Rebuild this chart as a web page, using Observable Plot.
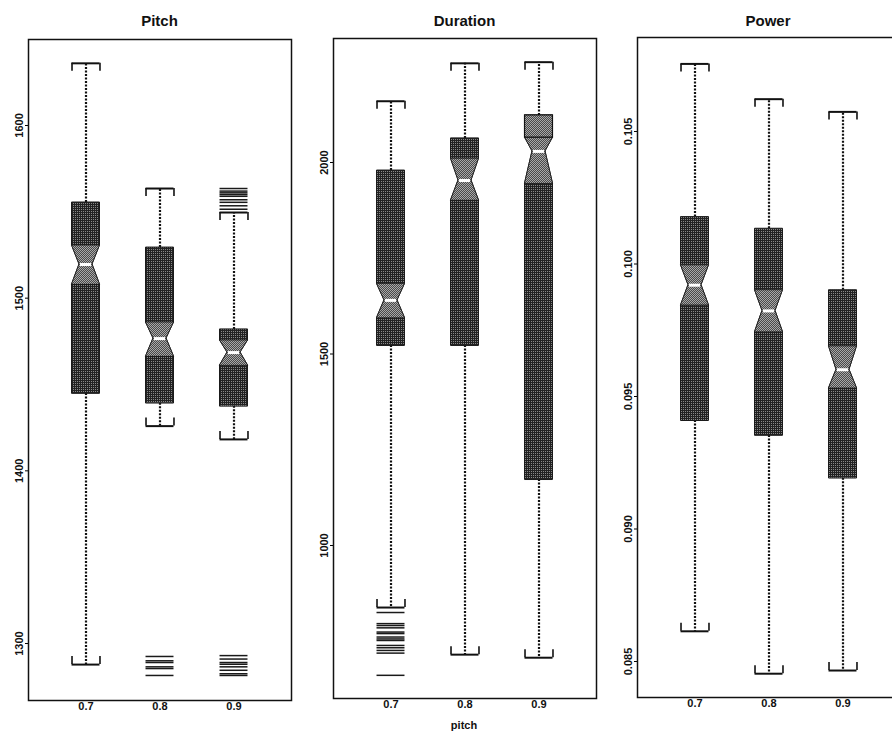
<!DOCTYPE html>
<html><head><meta charset="utf-8">
<script src="https://cdn.jsdelivr.net/npm/d3@7"></script>
<script src="https://cdn.jsdelivr.net/npm/@observablehq/plot@0.6"></script>
<style>
html,body{margin:0;padding:0;background:#fff;overflow:hidden;width:892px;height:736px;}
#root{position:relative;width:892px;height:736px;overflow:hidden;font-family:"Liberation Sans",Arial,Helvetica,sans-serif;}
.panel{position:absolute;top:30px;}
.title{position:absolute;top:12px;width:160px;text-align:center;font-size:15px;font-weight:bold;line-height:18px;color:#111;}
.xlab{position:absolute;top:719px;width:80px;text-align:center;font-size:11px;font-weight:bold;line-height:13px;color:#111;}
</style></head>
<body><div id="root">
<svg width="0" height="0" style="position:absolute;left:0;top:0"><defs>
<pattern id="dark" width="2" height="2" patternUnits="userSpaceOnUse"><rect width="2" height="2" fill="#222"/><rect x="1" y="1" width="1" height="1" fill="#888"/></pattern>
<pattern id="mid" width="2" height="2" patternUnits="userSpaceOnUse"><rect width="2" height="2" fill="#4a4a4a"/><rect x="0" y="0" width="1" height="1" fill="#a8a8a8"/><rect x="1" y="1" width="1" height="1" fill="#a8a8a8"/></pattern>
</defs></svg>
</div>
<script>
const cats = [0.7, 0.8, 0.9];
const catLabels = ["0.7", "0.8", "0.9"];

// Pitch
const pitchWhiskerHigh = [1636, 1563.5, 1549.6];
const pitchQ3 = [1555.4, 1529.3, 1481.9];
const pitchNotchHigh = [1530.5, 1485.9, 1475.5];
const pitchMedian = [1519.5, 1476.6, 1468.5];
const pitchNotchLow = [1507.9, 1466.2, 1461];
const pitchQ1 = [1444.8, 1439.2, 1437.4];
const pitchWhiskerLow = [1287.8, 1425.9, 1418.2];
const pitchOutliers = [[], [1292.5, 1290, 1289, 1286.5, 1285.5, 1281.5],
  [1563.5, 1562, 1561, 1560, 1559, 1557, 1555.5, 1553.5, 1551.5, 1293, 1291, 1289, 1288, 1286.5, 1284.5, 1282.5, 1281.5]];
const pitchTicks = [1300, 1400, 1500, 1600];

// Duration
const durWhiskerHigh = [2160, 2259, 2262];
const durQ3 = [1979, 2063, 2065];
const durNotchHigh = [1683, 2010, 2123];
const durMedian = [1640, 1953, 2029];
const durNotchLow = [1594, 1901, 1945];
const durQ1 = [1522, 1522, 1172];
const durWhiskerLow = [838, 715, 707];
const durOutliers = [[825, 796, 791, 785, 774, 770, 761, 756, 752, 739, 733, 726, 719, 661], [], []];
const durTicks = [1000, 1500, 2000];

// Power
const powWhiskerHigh = [0.10755, 0.10622, 0.10574];
const powQ3 = [0.10177, 0.10133, 0.09901];
const powNotchHigh = [0.09995, 0.09901, 0.09689];
const powMedian = [0.09920, 0.09823, 0.09601];
const powNotchLow = [0.09844, 0.09743, 0.09531];
const powQ1 = [0.09409, 0.09353, 0.09192];
const powWhiskerLow = [0.08614, 0.08454, 0.08466];
const powOutliers = [[], [], []];
const powTicks = [0.085, 0.090, 0.095, 0.100, 0.105];

const xDomain = [0.6223, 0.9777];
const HW = 0.0189, NW = 0.0088;

function panel(o) {
  const innerH = o.height - o.marginTop - o.marginBottom;
  const capLen = 8 * (o.domain[1] - o.domain[0]) / innerH;
  const n = cats.length;
  const body = [], notch = [], ext = [], outs = [], whisk = [], caps = [], capTicks = [];
  for (let i = 0; i < n; i++) {
    const c = cats[i];
    const lo = Math.min(o.q1[i], o.nLo[i]), hi = Math.max(o.q3[i], o.nHi[i]);
    const nTop = Math.min(o.nHi[i], o.q3[i]);
    body.push({c, y: lo, w: HW}, {c, y: o.nLo[i], w: HW}, {c, y: o.med[i], w: NW}, {c, y: nTop, w: HW}, {c, y: hi, w: HW});
    notch.push({c, y: o.nLo[i], w: HW}, {c, y: o.med[i], w: NW}, {c, y: nTop, w: HW});
    if (o.nHi[i] > o.q3[i]) ext.push({c, y1: o.q3[i], y2: o.nHi[i]});
    for (const v of o.out[i]) outs.push({c, y: v});
    whisk.push({c, y1: hi, y2: o.wHi[i]}, {c, y1: lo, y2: o.wLo[i]});
    caps.push({c, y: o.wHi[i]}, {c, y: o.wLo[i]});
    for (const s of [-1, 1]) {
      capTicks.push({x: c + s * HW, y1: o.wHi[i], y2: o.wHi[i] - capLen});
      capTicks.push({x: c + s * HW, y1: o.wLo[i], y2: o.wLo[i] + capLen});
    }
  }
  const p = Plot.plot({
    width: o.width, height: o.height,
    marginLeft: o.marginLeft, marginRight: o.marginRight, marginTop: o.marginTop, marginBottom: o.marginBottom,
    style: {fontFamily: '"Liberation Sans", Arial, sans-serif', fontSize: "11px", background: "transparent", overflow: "visible"},
    x: {domain: xDomain, axis: null},
    y: {domain: o.domain, nice: false, ticks: o.ticks, tickSize: 3, tickFormat: () => "", label: null},
    marks: [
      Plot.ruleX(whisk, {x: "c", y1: "y1", y2: "y2", stroke: "#111", strokeWidth: 2.2, strokeDasharray: "2,1.5"}),
      Plot.areaX(body, {y: "y", x1: d => d.c - d.w, x2: d => d.c + d.w, z: "c", fill: "url(#dark)", stroke: "#1a1a1a", strokeWidth: 1, curve: "linear"}),
      Plot.areaX(notch, {y: "y", x1: d => d.c - d.w, x2: d => d.c + d.w, z: "c", fill: "url(#mid)", stroke: "#1a1a1a", strokeWidth: 0.8, curve: "linear"}),
      Plot.rect(ext, {x1: d => d.c - HW, x2: d => d.c + HW, y1: "y1", y2: "y2", fill: "url(#mid)", stroke: "#111", strokeWidth: 1.2}),
      Plot.ruleY(cats.map((c, i) => ({c, y: o.med[i]})), {y: "y", x1: d => d.c - NW * 0.85, x2: d => d.c + NW * 0.85, stroke: "#fff", strokeWidth: 3}),
      Plot.ruleY(caps, {y: "y", x1: d => d.c - HW, x2: d => d.c + HW, stroke: "#111", strokeWidth: 2}),
      Plot.ruleX(capTicks, {x: "x", y1: "y1", y2: "y2", stroke: "#111", strokeWidth: 1.6}),
      Plot.ruleY(outs, {y: "y", x1: d => d.c - HW, x2: d => d.c + HW, stroke: "#1a1a1a", strokeWidth: 1.5}),
      Plot.frame({stroke: "#111", strokeWidth: 1.5}),
      Plot.text(o.ticks, {y: d => d, frameAnchor: "left", dx: -9, rotate: -90, textAnchor: "middle", text: o.fmt, fill: "#111", fontWeight: "bold", fontSize: 11}),
      Plot.text(cats, {x: d => d, frameAnchor: "bottom", dy: 9, text: (d, i) => catLabels[i], fill: "#111", fontWeight: "bold", fontSize: 11})
    ]
  });
  p.classList.add("panel");
  p.style.left = o.left + "px";
  p.style.position = "absolute";
  p.style.top = "30px";
  return p;
}

const root = document.getElementById("root");
const H = 706;
root.appendChild(panel({left: 0, width: 300, height: H, marginLeft: 28, marginRight: 9, marginTop: 9, marginBottom: 36,
  domain: [1267.0, 1649.8], ticks: pitchTicks, fmt: d => String(d),
  q1: pitchQ1, q3: pitchQ3, nLo: pitchNotchLow, nHi: pitchNotchHigh, med: pitchMedian, wLo: pitchWhiskerLow, wHi: pitchWhiskerHigh, out: pitchOutliers}));
root.appendChild(panel({left: 300, width: 310, height: H, marginLeft: 33, marginRight: 14, marginTop: 8, marginBottom: 38,
  domain: [600.5, 2323.8], ticks: durTicks, fmt: d => String(d),
  q1: durQ1, q3: durQ3, nLo: durNotchLow, nHi: durNotchHigh, med: durMedian, wLo: durWhiskerLow, wHi: durWhiskerHigh, out: durOutliers}));
root.appendChild(panel({left: 610, width: 292, height: H, marginLeft: 27, marginRight: 2, marginTop: 7, marginBottom: 39,
  domain: [0.083642, 0.108547], ticks: powTicks, fmt: d => d.toFixed(3),
  q1: powQ1, q3: powQ3, nLo: powNotchLow, nHi: powNotchHigh, med: powMedian, wLo: powWhiskerLow, wHi: powWhiskerHigh, out: powOutliers}));

const titles = [["Pitch", 159.5], ["Duration", 464.5], ["Power", 768]];
for (const [t, cx] of titles) {
  const d = document.createElement("div");
  d.className = "title"; d.textContent = t; d.style.left = (cx - 80) + "px";
  root.appendChild(d);
}
const xl = document.createElement("div");
xl.className = "xlab"; xl.textContent = "pitch"; xl.style.left = (464 - 40) + "px";
root.appendChild(xl);
</script>
</body></html>
